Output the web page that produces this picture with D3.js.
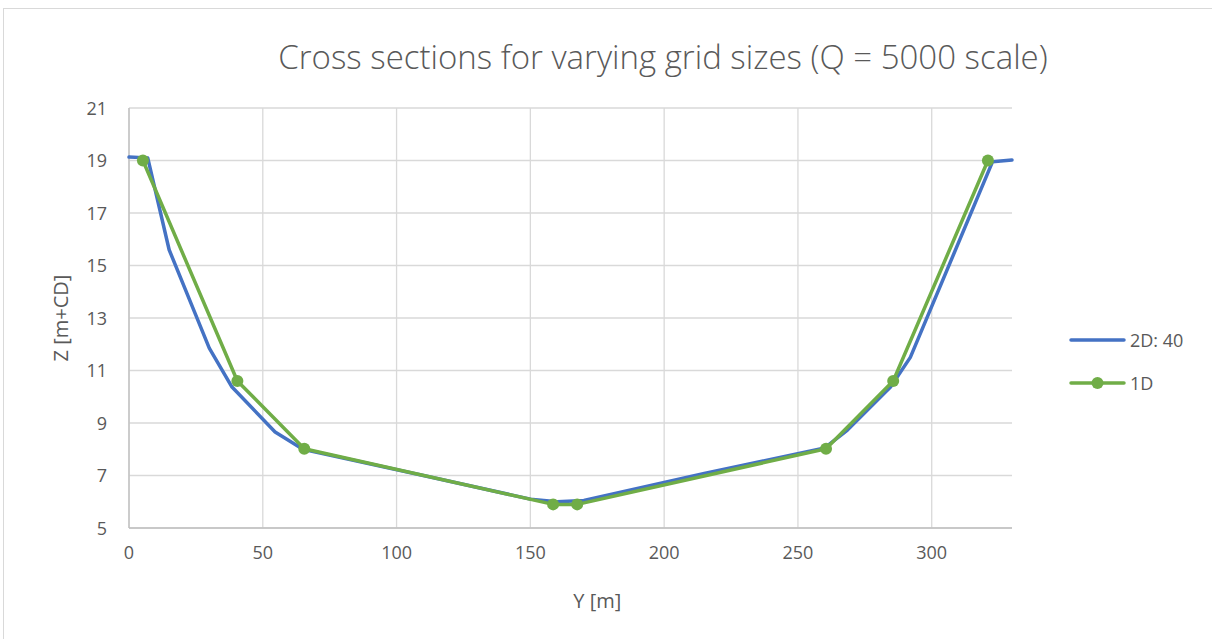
<!DOCTYPE html>
<html>
<head>
<meta charset="utf-8">
<script src="https://cdn.jsdelivr.net/npm/d3@7"></script>
<style>
  body { margin: 0; background: #fff; }
  text { font-family: "Open Sans", "Liberation Sans", sans-serif; fill: #595959; }
</style>
</head>
<body>
<script>
// 2D: 40 grid cross section
const y2D = [0, 7, 15, 30, 38.5, 54.6, 65, 110, 150, 160, 170, 215, 260, 268.5, 284.6, 292, 322.7, 330];
const z2D = [19.13, 19.1, 15.6, 11.85, 10.37, 8.66, 8.0, 7.0, 6.1, 6.0, 6.05, 7.08, 8.05, 8.73, 10.37, 11.5, 18.95, 19.02];
// 1D profile
const y1D = [5.2, 40.5, 65.5, 158.5, 167.5, 260.5, 285.6, 321];
const z1D = [19.0, 10.6, 8.02, 5.9, 5.9, 8.02, 10.6, 19.0];

const xTicks = [0, 50, 100, 150, 200, 250, 300];
const yTicks = [5, 7, 9, 11, 13, 15, 17, 19, 21];

const W = 1212, H = 639;
const svg = d3.select("body").append("svg").attr("width", W).attr("height", H);

// chart border
svg.append("rect").attr("x", 3.5).attr("y", 8.5).attr("width", W + 10).attr("height", H + 10)
  .attr("fill", "none").attr("stroke", "#d9d9d9").attr("stroke-width", 1);

const x = d3.scaleLinear().domain([0, 330]).range([129, 1012]);
const y = d3.scaleLinear().domain([5, 21]).range([528, 108]);

// grid
svg.append("g").selectAll("line").data(yTicks).join("line")
  .attr("x1", x(0)).attr("x2", x(330))
  .attr("y1", d => y(d)).attr("y2", d => y(d))
  .attr("stroke", "#d9d9d9").attr("stroke-width", 1.3);
svg.append("g").selectAll("line").data(xTicks).join("line")
  .attr("x1", d => x(d)).attr("x2", d => x(d))
  .attr("y1", y(5)).attr("y2", y(21))
  .attr("stroke", "#d9d9d9").attr("stroke-width", 1.3);

// axis lines
svg.append("line").attr("x1", x(0)).attr("x2", x(330)).attr("y1", y(5)).attr("y2", y(5))
  .attr("stroke", "#bfbfbf").attr("stroke-width", 1.3);
svg.append("line").attr("x1", x(0)).attr("x2", x(0)).attr("y1", y(5)).attr("y2", y(21))
  .attr("stroke", "#bfbfbf").attr("stroke-width", 1.3);

// tick labels
svg.append("g").selectAll("text").data(xTicks).join("text")
  .attr("x", d => x(d)).attr("y", y(5) + 31)
  .attr("text-anchor", "middle").attr("font-size", 18).text(d => d);
svg.append("g").selectAll("text").data(yTicks).join("text")
  .attr("x", 107).attr("y", d => y(d) + 6.5)
  .attr("text-anchor", "end").attr("font-size", 18).text(d => d);

// axis titles
svg.append("text").attr("x", x(175)).attr("y", 608).attr("text-anchor", "middle")
  .attr("font-size", 20).text("Y [m]");
svg.append("text").attr("transform", `translate(68,${y(13)}) rotate(-90)`)
  .attr("text-anchor", "middle").attr("font-size", 20).text("Z [m+CD]");

// title
svg.append("text").attr("x", 663).attr("y", 69).attr("text-anchor", "middle")
  .attr("font-size", 33).attr("font-weight", 300).text("Cross sections for varying grid sizes (Q = 5000 scale)");

const line = d3.line().x(d => x(d[0])).y(d => y(d[1]));

svg.append("path").datum(d3.zip(y2D, z2D)).attr("d", line)
  .attr("fill", "none").attr("stroke", "#4472C4").attr("stroke-width", 3.5)
  .attr("stroke-linejoin", "round").attr("stroke-linecap", "round");

svg.append("path").datum(d3.zip(y1D, z1D)).attr("d", line)
  .attr("fill", "none").attr("stroke", "#70AD47").attr("stroke-width", 3.5)
  .attr("stroke-linejoin", "round").attr("stroke-linecap", "round");

svg.append("g").selectAll("circle").data(d3.zip(y1D, z1D)).join("circle")
  .attr("cx", d => x(d[0])).attr("cy", d => y(d[1])).attr("r", 6)
  .attr("fill", "#70AD47");

// legend
const legend = svg.append("g");
legend.append("line").attr("x1", 1071).attr("x2", 1124).attr("y1", 340).attr("y2", 340)
  .attr("stroke", "#4472C4").attr("stroke-width", 3.5).attr("stroke-linecap", "round");
legend.append("text").attr("x", 1130).attr("y", 346.5).attr("font-size", 18).text("2D: 40");
legend.append("line").attr("x1", 1071).attr("x2", 1124).attr("y1", 383).attr("y2", 383)
  .attr("stroke", "#70AD47").attr("stroke-width", 3.5).attr("stroke-linecap", "round");
legend.append("circle").attr("cx", 1097.5).attr("cy", 383).attr("r", 6).attr("fill", "#70AD47");
legend.append("text").attr("x", 1130).attr("y", 389.5).attr("font-size", 18).text("1D");
</script>
</body>
</html>
